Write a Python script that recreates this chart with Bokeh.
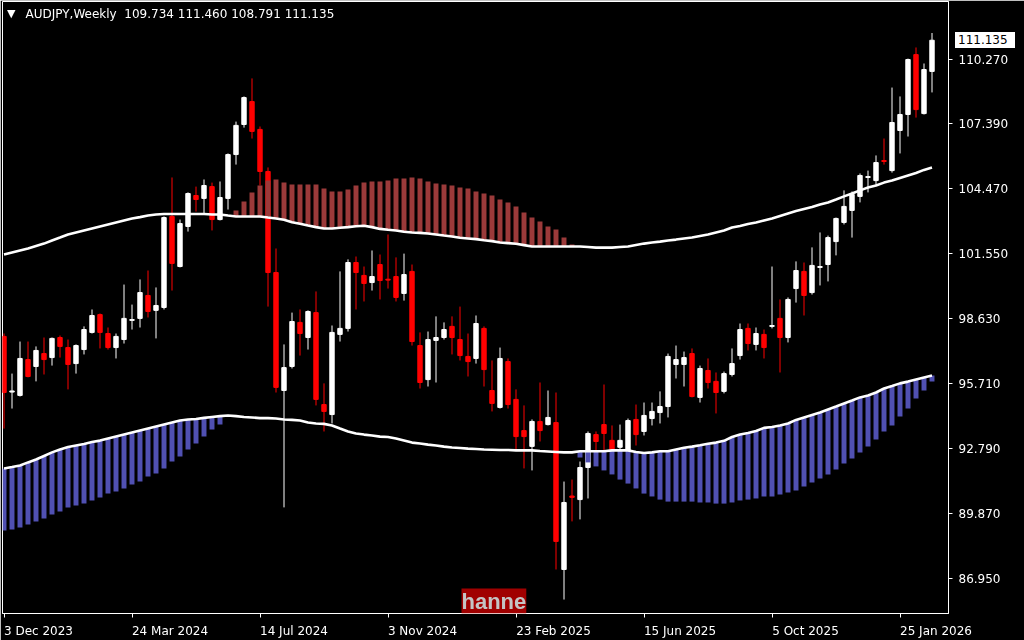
from bokeh.plotting import figure
from bokeh.models import Range1d, FixedTicker, Label, ColumnDataSource, Div
from bokeh.layouts import column
from bokeh.embed import file_html
from bokeh.resources import INLINE

# ---------------- data (weekly AUDJPY, one entry per weekly bar) ----------------
label_bars = [0, 16, 32, 48, 64, 80, 96, 112]
week_labels = ["3 Dec 2023", "24 Mar 2024", "14 Jul 2024", "3 Nov 2024",
               "23 Feb 2025", "15 Jun 2025", "5 Oct 2025", "25 Jan 2026"]
price_ticks = [86.950, 89.870, 92.790, 95.710, 98.630, 101.550, 104.470, 107.390, 110.270]

opens = [97.83, 95.33, 95.18, 96.79, 96.48, 97.06, 96.88, 97.78, 97.33, 96.61,
         97.24, 98.01, 98.81, 97.96, 97.33, 97.69, 98.55, 98.64, 99.67, 99.00,
         99.13, 103.22, 100.97, 102.77, 104.16, 104.03, 104.56, 103.08, 104.03, 106.00,
         107.35, 108.38, 107.13, 105.24, 100.70, 95.40, 96.48, 98.46, 97.78, 98.90,
         94.77, 94.32, 97.92, 98.19, 101.15, 100.57, 100.25, 101.06, 100.40, 100.52,
         99.76, 100.75, 97.42, 95.89, 97.65, 97.78, 98.28, 97.69, 96.93, 96.84,
         98.19, 95.40, 94.64, 96.70, 95.00, 93.60, 92.89, 94.01, 93.87, 93.96,
         87.36, 90.66, 90.50, 91.94, 93.42, 93.87, 93.16, 92.85, 92.71, 94.10,
         93.56, 94.14, 94.41, 94.68, 96.57, 96.57, 97.06, 95.09, 96.30, 95.81,
         95.36, 96.12, 96.97, 98.19, 97.47, 97.92, 98.28, 98.64, 97.78, 99.98,
         100.75, 99.80, 100.93, 101.06, 102.09, 102.95, 103.49, 104.12, 104.97, 104.83,
         105.73, 105.28, 107.08, 107.80, 110.49, 107.84, 109.734]
highs = [97.96, 96.16, 97.60, 97.60, 97.38, 97.78, 97.78, 97.87, 97.69, 97.47,
         98.28, 99.04, 98.86, 98.23, 97.96, 100.16, 99.26, 100.39, 100.79, 100.03,
         103.22, 104.97, 103.08, 104.30, 104.56, 104.88, 104.74, 104.79, 106.05, 107.48,
         108.61, 109.42, 107.26, 105.42, 101.78, 97.47, 98.90, 99.04, 99.00, 99.85,
         95.72, 98.32, 100.75, 101.29, 101.42, 100.97, 101.69, 101.51, 102.41, 101.38,
         101.55, 101.06, 98.01, 98.05, 98.73, 98.46, 98.73, 99.17, 97.96, 98.77,
         98.28, 96.75, 97.33, 96.84, 95.45, 94.73, 94.10, 95.76, 95.40, 95.31,
         91.31, 91.40, 92.21, 93.56, 93.56, 95.67, 93.83, 93.87, 94.14, 94.77,
         94.86, 94.86, 95.36, 97.06, 97.42, 97.15, 97.29, 96.52, 96.84, 96.21,
         96.25, 97.29, 98.41, 98.41, 98.23, 98.14, 100.97, 99.49, 99.58, 101.20,
         101.15, 101.83, 102.50, 102.36, 103.17, 104.39, 104.34, 105.15, 105.28, 105.96,
         106.72, 109.01, 108.61, 110.31, 110.81, 110.09, 111.460]
lows = [93.69, 94.59, 95.13, 95.99, 95.81, 96.12, 96.52, 96.88, 95.45, 96.16,
        97.02, 97.96, 97.29, 97.24, 96.84, 97.51, 98.14, 98.23, 98.68, 97.74,
        99.04, 99.89, 100.93, 102.54, 103.44, 103.35, 102.59, 103.04, 103.53, 105.55,
        107.21, 106.72, 104.61, 99.17, 95.31, 90.15, 96.39, 96.97, 97.24, 94.73,
        93.56, 93.92, 97.60, 98.05, 99.04, 99.40, 99.89, 99.49, 99.98, 99.40,
        99.44, 97.42, 95.49, 95.58, 95.76, 97.69, 97.02, 96.75, 96.03, 96.61,
        95.58, 94.46, 94.59, 94.59, 92.71, 91.90, 91.81, 93.11, 93.83, 87.36,
        86.01, 89.52, 89.61, 90.55, 92.62, 92.62, 92.62, 92.62, 92.62, 92.93,
        93.38, 93.83, 93.92, 94.19, 95.94, 95.58, 95.09, 94.86, 95.49, 94.37,
        95.27, 96.03, 96.79, 97.20, 97.20, 96.84, 98.19, 96.21, 97.56, 99.35,
        98.77, 99.71, 100.12, 100.30, 101.47, 102.86, 102.27, 103.85, 104.30, 104.61,
        105.55, 105.19, 106.05, 106.81, 107.66, 107.80, 108.791]
closes = [95.31, 95.38, 96.84, 96.03, 97.20, 96.79, 97.74, 97.38, 96.57, 97.42,
          98.14, 98.77, 98.01, 97.33, 97.83, 98.64, 98.59, 99.80, 98.95, 99.22,
          103.17, 101.11, 102.90, 104.25, 103.98, 104.61, 103.08, 104.07, 106.00, 107.31,
          108.56, 107.04, 105.24, 100.70, 95.54, 96.43, 98.50, 97.96, 98.95, 95.00,
          94.46, 98.01, 98.19, 101.15, 100.70, 100.21, 100.52, 100.34, 100.36, 99.58,
          100.61, 97.60, 95.76, 97.69, 97.78, 98.14, 97.78, 96.97, 96.70, 98.41,
          96.34, 94.82, 96.84, 94.77, 93.33, 93.33, 94.01, 93.60, 94.19, 88.62,
          90.37, 90.60, 91.94, 93.47, 93.11, 93.47, 92.75, 93.16, 94.05, 93.42,
          94.28, 94.46, 94.68, 96.93, 96.79, 96.88, 95.13, 96.39, 95.76, 95.31,
          96.16, 96.61, 98.14, 97.51, 97.96, 97.33, 98.32, 97.78, 99.49, 100.79,
          99.67, 101.02, 100.97, 102.27, 103.13, 103.67, 104.21, 105.06, 105.01, 105.64,
          105.69, 107.44, 107.80, 110.27, 108.02, 109.82, 111.135]

upper_band = [101.51, 101.60, 101.69, 101.78, 101.89, 102.00, 102.14, 102.27, 102.41, 102.50,
              102.59, 102.68, 102.77, 102.86, 102.95, 103.04, 103.13, 103.19, 103.26, 103.31,
              103.33, 103.33, 103.33, 103.33, 103.33, 103.33, 103.31, 103.31, 103.26, 103.22,
              103.22, 103.22, 103.22, 103.17, 103.13, 103.07, 102.96, 102.89, 102.81, 102.74,
              102.68, 102.68, 102.71, 102.74, 102.78, 102.80, 102.74, 102.66, 102.62, 102.59,
              102.53, 102.50, 102.48, 102.45, 102.41, 102.36, 102.32, 102.26, 102.23, 102.20,
              102.15, 102.11, 102.05, 102.02, 101.99, 101.93, 101.87, 101.87, 101.87, 101.87,
              101.87, 101.87, 101.87, 101.85, 101.82, 101.82, 101.82, 101.85, 101.87, 101.94,
              102.00, 102.05, 102.09, 102.14, 102.18, 102.23, 102.27, 102.34, 102.41, 102.50,
              102.59, 102.72, 102.79, 102.88, 102.95, 103.04, 103.13, 103.24, 103.35, 103.46,
              103.55, 103.64, 103.76, 103.85, 103.98, 104.12, 104.25, 104.39, 104.52, 104.61,
              104.74, 104.83, 104.95, 105.06, 105.17, 105.31, 105.42]
lower_band = [91.90, 91.96, 92.03, 92.17, 92.30, 92.46, 92.62, 92.75, 92.86, 92.93,
              93.00, 93.09, 93.15, 93.24, 93.33, 93.42, 93.51, 93.60, 93.69, 93.78,
              93.87, 93.96, 94.05, 94.10, 94.12, 94.17, 94.21, 94.25, 94.28, 94.25,
              94.21, 94.19, 94.16, 94.16, 94.14, 94.10, 94.08, 94.05, 93.96, 93.92,
              93.90, 93.83, 93.69, 93.56, 93.47, 93.42, 93.38, 93.33, 93.31, 93.24,
              93.15, 93.06, 93.02, 92.97, 92.93, 92.88, 92.84, 92.82, 92.79, 92.77,
              92.75, 92.74, 92.73, 92.73, 92.71, 92.71, 92.71, 92.68, 92.66, 92.64,
              92.62, 92.62, 92.67, 92.67, 92.67, 92.67, 92.71, 92.71, 92.71, 92.64,
              92.59, 92.62, 92.67, 92.67, 92.75, 92.83, 92.88, 92.94, 93.01, 93.06,
              93.14, 93.31, 93.42, 93.49, 93.58, 93.72, 93.76, 93.83, 93.92, 94.08,
              94.19, 94.30, 94.41, 94.55, 94.68, 94.82, 94.95, 95.09, 95.18, 95.31,
              95.49, 95.60, 95.72, 95.80, 95.89, 95.98, 96.07]
# histogram above the upper band (None = no bar)
upper_hist = [None] * 29 + [
    103.49, 103.89, 104.30, 104.61, 104.83, 104.88, 104.74, 104.65, 104.65, 104.65,
    104.65, 104.47, 104.34, 104.34, 104.43, 104.61, 104.74, 104.79, 104.79, 104.83,
    104.92, 104.92, 104.97, 104.92, 104.79, 104.70, 104.65, 104.61, 104.52, 104.47,
    104.34, 104.25, 104.16, 103.98, 103.85, 103.67, 103.40, 103.17, 102.99, 102.77,
    102.63, 102.27, 101.96] + [None] * 45
# histogram below the lower band (None = no bar)
lower_hist = [89.11, 89.16, 89.25, 89.38, 89.52, 89.65, 89.83, 89.96, 90.14, 90.23,
              90.32, 90.46, 90.59, 90.77, 90.86, 91.00, 91.18, 91.31, 91.54, 91.67,
              91.90, 92.21, 92.44, 92.75, 93.02, 93.33, 93.65, 93.87] + [None] * 44 + [
              92.39, 92.17, 91.99, 91.81, 91.63, 91.40, 91.22, 91.00,
              90.77, 90.64, 90.50, 90.41, 90.41, 90.41, 90.41, 90.37, 90.37, 90.32,
              90.32, 90.37, 90.46, 90.50, 90.55, 90.64, 90.64, 90.73, 90.82, 90.91,
              91.09, 91.27, 91.45, 91.63, 91.85, 92.12, 92.35, 92.62, 92.88, 93.20,
              93.56, 93.83, 94.23, 94.59, 95.04, 95.40, 95.81]

symbol = "AUDJPY,Weekly"
last_ohlc = ["109.734", "111.460", "108.791", "111.135"]
last_price = 111.135

# ---------------- build ----------------
n = len(opens)
idx = list(range(n))
colors = ["white" if c >= o else "#FF0000" for o, c in zip(opens, closes)]
src = ColumnDataSource(dict(
    x=idx, h=highs, l=lows,
    top=[max(o, c) for o, c in zip(opens, closes)],
    bottom=[min(o, c) for o, c in zip(opens, closes)],
    color=colors))

uh = [(i, b, t) for i, (b, t) in enumerate(zip(upper_band, upper_hist)) if t is not None]
lh = [(i, t, b) for i, (t, b) in enumerate(zip(lower_band, lower_hist)) if b is not None]
src_up = ColumnDataSource(dict(x=[a[0] for a in uh], bottom=[a[1] for a in uh], top=[a[2] for a in uh]))
src_dn = ColumnDataSource(dict(x=[a[0] for a in lh], top=[a[1] for a in lh], bottom=[a[2] for a in lh]))

PX_PER_BAR = 8.0
PRICE_PER_PX = 2.92 / 65.0
x0 = -1.5 / PX_PER_BAR
x1 = x0 + 946 / PX_PER_BAR
y_top = 110.27 + 58 * PRICE_PER_PX
y_bot = y_top - 612 * PRICE_PER_PX

FONT = "DejaVu Sans"

p = figure(width=1024, height=640, output_backend="svg", toolbar_location=None,
           x_range=Range1d(x0, x1), y_range=Range1d(y_bot, y_top),
           y_axis_location="right", tools="",
           min_border_left=2, min_border_top=1, min_border_right=76, min_border_bottom=27)
p.styles = {"position": "fixed", "left": "0px", "top": "0px"}
p.background_fill_color = "black"
p.border_fill_color = "black"
p.outline_line_color = "white"
p.outline_line_width = 1
p.grid.visible = False

p.segment(x0="x", y0="l", x1="x", y1="h", line_color="color", line_width=1, source=src)
p.vbar(x="x", width=0.55, top="top", bottom="bottom", fill_color="color",
       line_color="color", line_width=1, source=src)

p.vbar(x="x", width=0.62, top="top", bottom="bottom", fill_color="#9B3A3A",
       line_color=None, source=src_up)
p.vbar(x="x", width=0.62, top="top", bottom="bottom", fill_color="#5050B2",
       line_color=None, source=src_dn)

p.line(idx, upper_band, line_color="white", line_width=2.6)
p.line(idx, lower_band, line_color="white", line_width=2.6)

# bottom axis: small tick marks (minor ticks) at the dated bars; each date text starts at its tick
half_width_bars = [4.3125, 4.75, 4.25, 4.3125, 4.6875, 4.5, 4.1875, 4.5]  # half text width / 8px
label_pos = [b + w for b, w in zip(label_bars, half_width_bars)]
xa = p.xaxis[0]
xa.ticker = FixedTicker(ticks=label_pos, minor_ticks=label_bars)
xa.major_label_overrides = {pos: t for pos, t in zip(label_pos, week_labels)}
xa.major_tick_line_color = None
xa.major_tick_out = 0
xa.major_tick_in = 0
xa.minor_tick_line_color = "white"
xa.minor_tick_out = 4
xa.minor_tick_in = 0
xa.major_label_standoff = 6

ya = p.yaxis[0]
ya.ticker = FixedTicker(ticks=price_ticks)
ya.major_label_overrides = {v: f"{v:.3f}" for v in price_ticks}
ya.major_tick_line_color = "white"
ya.major_tick_out = 4
ya.major_tick_in = 0
ya.minor_tick_line_color = None
ya.major_label_standoff = 6
for ax in (xa, ya):
    ax.axis_line_color = "white"
    ax.major_label_text_color = "white"
    ax.major_label_text_font = FONT
    ax.major_label_text_font_size = "12px"

# header and watermark
hy = y_top - 12 * PRICE_PER_PX
p.add_layout(Label(x=0.9, y=hy, text="\u25bc", text_color="white",
                   text_font=FONT, text_font_size="11px", text_align="center",
                   text_baseline="middle"))
p.add_layout(Label(x=(25 - 3.5) / PX_PER_BAR, y=hy,
                   text=symbol + "\u00a0 " + " ".join(last_ohlc),
                   text_color="white", text_font=FONT, text_font_size="12px",
                   text_baseline="middle"))
p.add_layout(Label(x=(461 - 3.5) / PX_PER_BAR, y=y_bot, text="hanne",
                   text_color="#C4C4C4", text_font="Liberation Sans",
                   text_font_size="22px", text_font_style="bold",
                   text_baseline="bottom", background_fill_color="#A00000"))

# last-price tag sitting on the price scale (outside the plot frame)
tag_top_px = round(58 - (last_price - 110.27) / PRICE_PER_PX) + 1 - 8
tag = Div(text=f"{last_price:.3f}", margin=0,
          styles={"position": "fixed", "left": "955px", "top": f"{tag_top_px}px",
                  "width": "60px", "height": "16px", "background-color": "white",
                  "color": "black", "font-family": FONT, "font-size": "12px",
                  "line-height": "16px", "padding-left": "3px", "box-sizing": "border-box"})

open("out.html", "w").write(file_html(column(p, tag), INLINE))
